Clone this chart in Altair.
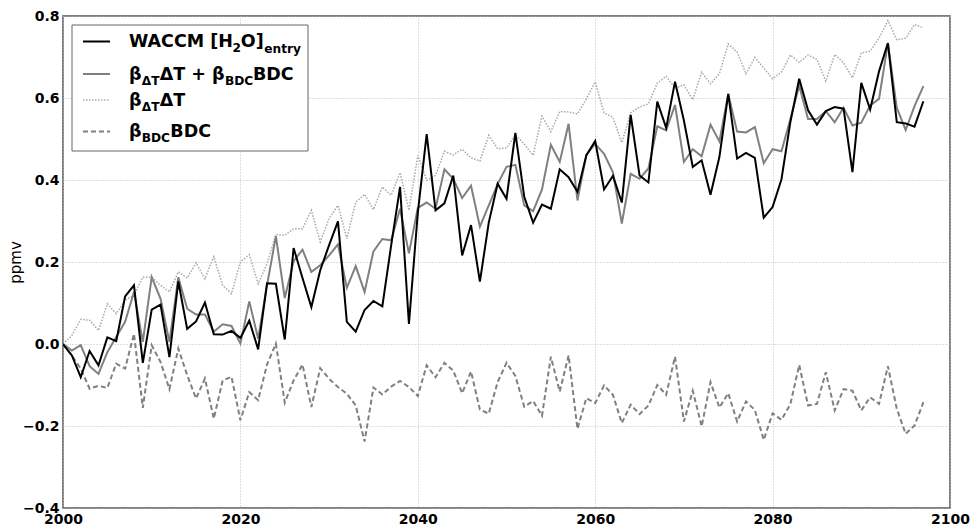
import altair as alt
import pandas as pd

# Annual values, ppmv
years = list(range(2000, 2098))

waccm = [
    0.0, -0.028, -0.081, -0.017, -0.052, 0.016, 0.007, 0.116, 0.143, -0.046,
    0.084, 0.096, -0.032, 0.153, 0.037, 0.055, 0.101, 0.024, 0.023, 0.032,
    0.015, 0.057, -0.013, 0.148, 0.147, 0.011, 0.234, 0.161, 0.090, 0.180,
    0.241, 0.299, 0.054, 0.030, 0.083, 0.105, 0.092, 0.241, 0.383, 0.049,
    0.320, 0.512, 0.326, 0.343, 0.411, 0.216, 0.290, 0.152, 0.296, 0.391,
    0.354, 0.515, 0.359, 0.296, 0.340, 0.330, 0.426, 0.407, 0.371, 0.460,
    0.495, 0.377, 0.410, 0.345, 0.559, 0.411, 0.394, 0.591, 0.527, 0.640,
    0.545, 0.432, 0.448, 0.364, 0.456, 0.610, 0.452, 0.466, 0.454, 0.308,
    0.334, 0.402, 0.541, 0.647, 0.570, 0.535, 0.568, 0.578, 0.574, 0.419,
    0.637, 0.572, 0.665, 0.734, 0.541, 0.538, 0.530, 0.592,
]

fit_total = [
    0.0, -0.016, -0.003, -0.054, -0.073, -0.020, 0.017, 0.054, 0.127, 0.005,
    0.163, 0.110, 0.005, 0.163, 0.086, 0.072, 0.072, 0.030, 0.048, 0.044,
    0.001, 0.104, 0.013, 0.143, 0.263, 0.112, 0.202, 0.230, 0.176, 0.192,
    0.216, 0.243, 0.137, 0.190, 0.127, 0.226, 0.256, 0.253, 0.330, 0.221,
    0.332, 0.345, 0.330, 0.426, 0.403, 0.356, 0.386, 0.286, 0.338, 0.390,
    0.432, 0.437, 0.338, 0.324, 0.377, 0.486, 0.444, 0.537, 0.350, 0.462,
    0.488, 0.464, 0.419, 0.294, 0.415, 0.403, 0.428, 0.531, 0.521, 0.583,
    0.444, 0.475, 0.458, 0.535, 0.494, 0.610, 0.518, 0.516, 0.529, 0.441,
    0.475, 0.470, 0.549, 0.630, 0.549, 0.549, 0.568, 0.541, 0.576, 0.533,
    0.540, 0.582, 0.598, 0.734, 0.576, 0.522, 0.580, 0.629,
]

fit_dt = [
    0.0, 0.021, 0.060, 0.058, 0.033, 0.098, 0.074, 0.107, 0.119, 0.163,
    0.163, 0.143, 0.127, 0.176, 0.161, 0.198, 0.159, 0.213, 0.143, 0.123,
    0.200, 0.218, 0.147, 0.196, 0.267, 0.265, 0.281, 0.281, 0.326, 0.249,
    0.306, 0.338, 0.257, 0.346, 0.365, 0.328, 0.383, 0.363, 0.418, 0.326,
    0.460, 0.399, 0.411, 0.470, 0.461, 0.475, 0.454, 0.446, 0.509, 0.476,
    0.478, 0.510, 0.488, 0.460, 0.556, 0.518, 0.567, 0.566, 0.561, 0.598,
    0.639, 0.564, 0.553, 0.491, 0.564, 0.578, 0.586, 0.636, 0.653, 0.624,
    0.632, 0.596, 0.663, 0.635, 0.659, 0.732, 0.712, 0.659, 0.699, 0.673,
    0.647, 0.663, 0.705, 0.687, 0.705, 0.694, 0.641, 0.706, 0.686, 0.649,
    0.710, 0.714, 0.746, 0.789, 0.742, 0.746, 0.779, 0.771,
]

fit_bdc = [
    0.0, -0.028, -0.060, -0.109, -0.102, -0.107, -0.048, -0.060, 0.025, -0.156,
    -0.003, -0.044, -0.110, -0.011, -0.076, -0.133, -0.084, -0.182, -0.089, -0.080,
    -0.186, -0.117, -0.137, -0.050, 0.001, -0.143, -0.089, -0.050, -0.154, -0.059,
    -0.085, -0.105, -0.121, -0.150, -0.238, -0.106, -0.123, -0.104, -0.090, -0.105,
    -0.127, -0.052, -0.081, -0.046, -0.065, -0.120, -0.067, -0.160, -0.170, -0.093,
    -0.046, -0.078, -0.153, -0.139, -0.175, -0.031, -0.116, -0.028, -0.207, -0.132,
    -0.144, -0.101, -0.124, -0.193, -0.148, -0.171, -0.150, -0.100, -0.124, -0.031,
    -0.189, -0.114, -0.201, -0.093, -0.155, -0.120, -0.189, -0.140, -0.161, -0.234,
    -0.169, -0.185, -0.147, -0.051, -0.150, -0.146, -0.069, -0.162, -0.110, -0.114,
    -0.162, -0.130, -0.146, -0.054, -0.158, -0.219, -0.199, -0.142,
]

x_ticks = [2000, 2020, 2040, 2060, 2080, 2100]
y_ticks = [-0.4, -0.2, 0.0, 0.2, 0.4, 0.6, 0.8]

FONT = "DejaVu Sans"

x_enc = alt.X(
    "year:Q",
    scale=alt.Scale(domain=[2000, 2100], nice=False, zero=False),
    axis=alt.Axis(values=x_ticks, format="d", title=None, labelFlush=False,
                  labelOverlap=False, labelPadding=4),
)
y_enc = alt.Y(
    "value:Q",
    scale=alt.Scale(domain=[-0.4, 0.8], nice=False, zero=False),
    axis=alt.Axis(values=y_ticks, format=".1f", title="ppmv", labelOverlap=False,
                  labelPadding=4, titleX=-48, titleY=246, titleAngle=270,
                  titleAlign="center", titleBaseline="middle",
                  titleFontWeight="normal", titleFontSize=15, titleFont=FONT),
)


def series_frame(values):
    return pd.DataFrame({"year": years, "value": values})


# (colour, width, dash) for each curve
styles = {
    "dt": ("#a9a9a9", 1.5, [1.5, 1.5]),
    "bdc": ("#808080", 2.0, [5, 3]),
    "total": ("#808080", 2.0, None),
    "waccm": ("#000000", 2.0, None),
}


def curve(values, key):
    color, width, dash = styles[key]
    kw = dict(color=color, strokeWidth=width, clip=True)
    if dash:
        kw["strokeDash"] = dash
    return alt.Chart(series_frame(values)).mark_line(**kw).encode(x=x_enc, y=y_enc)


# drawn back to front
lines = [
    curve(fit_dt, "dt"),
    curve(fit_bdc, "bdc"),
    curve(fit_total, "total"),
    curve(waccm, "waccm"),
]

one_row = pd.DataFrame({"k": [0]})

# Legend frame
legend_layers = [
    alt.Chart(one_row).mark_rect(fill="white", stroke="#666666", strokeWidth=1).encode(
        x=alt.value(9), x2=alt.value(245), y=alt.value(9), y2=alt.value(135)
    )
]

# Legend keys: (style, row centre y relative to plot top)
key_rows = [("waccm", 25.5), ("total", 58), ("dt", 84), ("bdc", 115.5)]
for key, ky in key_rows:
    color, width, dash = styles[key]
    kw = dict(color=color, strokeWidth=width)
    if dash:
        kw["strokeDash"] = dash
    legend_layers.append(
        alt.Chart(one_row).mark_rule(**kw).encode(
            x=alt.value(20), x2=alt.value(47), y=alt.value(ky)
        )
    )

# Legend labels as runs of normal and subscript text: (text, x, baseline y, size)
MAIN, SUB = 17.5, 12.2
label_runs = [
    ("WACCM [H", 66, 31, MAIN), ("2", 169.4, 36, SUB), ("O]", 177.8, 31, MAIN),
    ("entry", 201.2, 36.5, SUB),
    ("β", 66, 64, MAIN), ("ΔT", 78.7, 69, SUB), ("ΔT + β", 96.7, 64, MAIN),
    ("BDC", 161.9, 69, SUB), ("BDC", 190, 64, MAIN),
    ("β", 66, 90, MAIN), ("ΔT", 78.7, 95, SUB), ("ΔT", 96.7, 90, MAIN),
    ("β", 66, 121, MAIN), ("BDC", 78.7, 126, SUB), ("BDC", 107.3, 121, MAIN),
]
for text, tx, ty, size in label_runs:
    legend_layers.append(
        alt.Chart(pd.DataFrame({"t": [text]})).mark_text(
            align="left", baseline="alphabetic", font=FONT, fontWeight="bold",
            fontSize=size, color="black",
        ).encode(text="t:N", x=alt.value(tx), y=alt.value(ty))
    )

chart = (
    alt.layer(*lines, *legend_layers)
    .properties(
        width=887,
        height=492,
        padding={"left": 63, "top": 16, "right": 24, "bottom": 19},
        autosize=alt.AutoSizeParams(type="none"),
        background="white",
    )
    .configure_view(stroke="#555555", strokeWidth=1.5)
    .configure_axis(
        grid=True,
        gridColor="#bdbdbd",
        gridDash=[1, 2],
        gridWidth=1,
        domain=False,
        ticks=False,
        labelFont=FONT,
        labelFontWeight="bold",
        labelFontSize=14,
        labelColor="black",
    )
)

chart.save("out.html", embed_options={"renderer": "svg", "actions": False})
